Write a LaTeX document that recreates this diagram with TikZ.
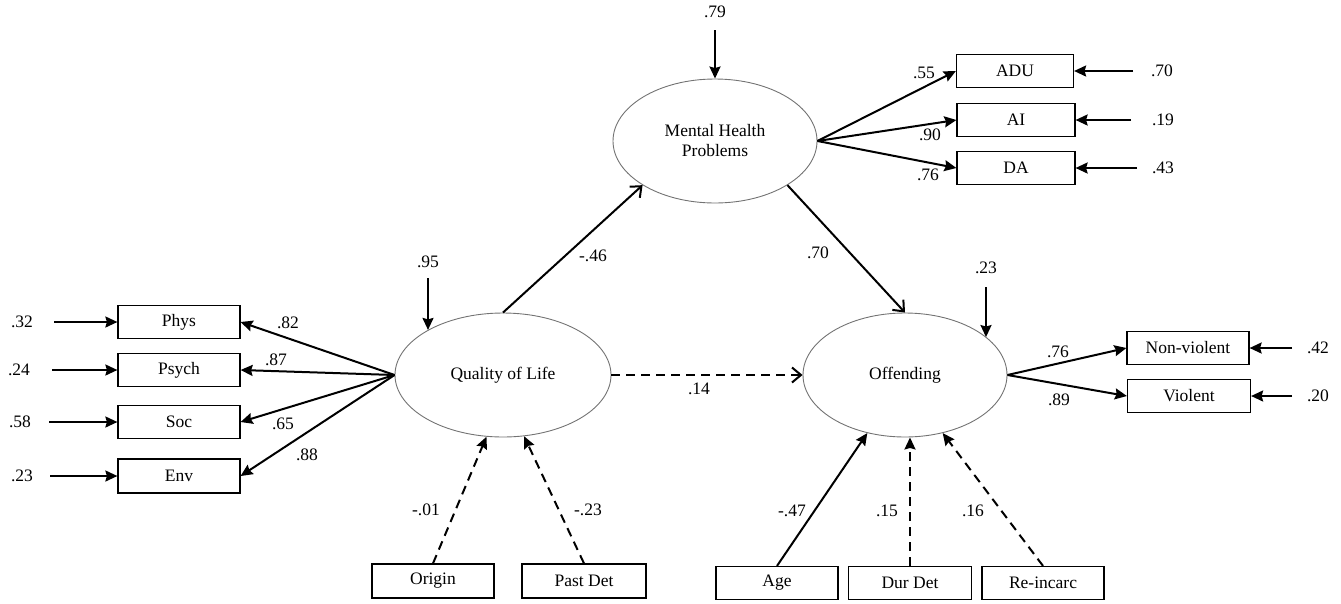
\documentclass[tikz,border=0pt]{standalone}
\usepackage{fontspec}
\setmainfont{Liberation Serif}
\usetikzlibrary{arrows.meta,shapes.geometric}
\tikzset{
  lat/.style={ellipse,draw=black!55,line width=0.9pt,inner sep=0pt,align=center},
  ind/.style={rectangle,draw=black,line width=1.2pt,minimum width=122pt,minimum height=33pt,inner sep=0pt},
  lbl/.style={inner sep=0pt},
  arr/.style={line width=2pt,-{Stealth[length=12pt,width=11pt,inset=1.5pt]}},
  oarr/.style={line width=2pt,-{Straight Barb[length=9pt,width=15pt,line width=2pt]}},
  dsh/.style={dash pattern=on 9pt off 6pt},
}
\begin{document}
\begin{tikzpicture}[x=1pt,y=-1pt,font=\fontsize{17.5}{20}\selectfont]
\useasboundingbox (0,0) rectangle (1341,603);
% latent variables
\node[lat,minimum width=216pt,minimum height=124pt] (qol) at (503,375) {Quality of Life};
\node[lat,minimum width=204pt,minimum height=124pt] (mhp) at (715,141) {Mental Health\\Problems};
\node[lat,minimum width=204pt,minimum height=124pt] (off) at (905,375) {Offending};
% QoL indicators
\node[ind] (phys) at (179,322) {Phys};
\node[ind] (psych) at (179,370) {Psych};
\node[ind] (soc) at (179,422) {Soc};
\node[ind,minimum height=34pt] (env) at (179,476) {Env};
% MHP indicators
\node[ind,minimum width=117pt] (adu) at (1015,71) {ADU};
\node[ind,minimum width=118pt] (ai) at (1016,120) {AI};
\node[ind,minimum width=118pt] (da) at (1016,168) {DA};
% Offending indicators
\node[ind] (nv) at (1188,348) {Non-violent};
\node[ind,minimum width=123pt] (vi) at (1189,396) {Violent};
% covariates
\node[ind,minimum height=34pt] (origin) at (433,581) {Origin};
\node[ind,minimum width=124pt,minimum height=34pt] (pastdet) at (584,581) {Past Det};
\node[ind] (age) at (777,583) {Age};
\node[ind,minimum width=123pt] (durdet) at (910,583) {Dur Det};
\node[ind] (reinc) at (1043,583) {Re-incarc};
% error terms
\coordinate (ephys) at (54,322);
\coordinate (epsych) at (52,370);
\coordinate (esoc) at (49,422);
\coordinate (eenv) at (50,476);
\coordinate (eadu) at (1133,71);
\coordinate (eai) at (1131,120);
\coordinate (eda) at (1137,168);
\coordinate (env2) at (1292,348);
\coordinate (evi) at (1292,396);
\coordinate (eqol) at (428,278);
\coordinate (emhp) at (715,30);
\coordinate (eoff) at (986,287);
\draw[arr] (ephys) -- (phys.west);
\draw[arr] (epsych) -- (psych.west);
\draw[arr] (esoc) -- (soc.west);
\draw[arr] (eenv) -- (env.west);
\draw[arr] (eadu) -- (adu.east);
\draw[arr] (eai) -- (ai.east);
\draw[arr] (eda) -- (da.east);
\draw[arr] (env2) -- (nv.east);
\draw[arr] (evi) -- (vi.east);
\draw[arr] (eqol) -- (eqol |- qol.149);
\draw[arr] (emhp) -- (mhp.north);
\draw[arr] (eoff) -- (eoff |- off.25);
\node[lbl] (l32) at (22,322) {.32};
\node[lbl] (l24) at (19,370) {.24};
\node[lbl] (l58) at (20,422) {.58};
\node[lbl] (l23a) at (22,476) {.23};
\node[lbl] (l70a) at (1162,71) {.70};
\node[lbl] (l19) at (1163,120) {.19};
\node[lbl] (l43) at (1163,168) {.43};
\node[lbl] (l42) at (1318,348) {.42};
\node[lbl] (l20) at (1318,396) {.20};
\node[lbl] (l95) at (428,262) {.95};
\node[lbl] (l79) at (715,12) {.79};
\node[lbl] (l23b) at (986,268) {.23};
% loadings
\draw[arr] (qol.west) -- (phys.east);
\draw[arr] (qol.west) -- (psych.east);
\draw[arr] (qol.west) -- (soc.east);
\draw[arr] (qol.west) -- (env.east);
\draw[arr] (mhp.east) -- (adu.west);
\draw[arr] (mhp.east) -- (ai.west);
\draw[arr] (mhp.east) -- (da.west);
\draw[arr] (off.east) -- (nv.west);
\draw[arr] (off.east) -- (vi.west);
\node[lbl] at (288,323) {.82};
\node[lbl] at (276,360) {.87};
\node[lbl] at (283,424) {.65};
\node[lbl] at (307,455) {.88};
\node[lbl] at (924,73) {.55};
\node[lbl] at (930,135) {.90};
\node[lbl] at (928,175) {.76};
\node[lbl] at (1058,352) {.76};
\node[lbl] at (1059,400) {.89};
% structural paths
\draw[oarr] (qol.north) -- (mhp.south west);
\draw[oarr] (mhp.south east) -- (off.north);
\draw[oarr,dsh] (qol.east) -- (off.west);
\node[lbl] at (593,256) {-.46};
\node[lbl] at (818,253) {.70};
\node[lbl] at (699,389) {.14};
% covariate paths
\draw[arr,dsh] (origin.north) -- (qol.255);
\draw[arr,dsh] (pastdet.north) -- (qol.289);
\draw[arr] (age.north) -- (off.237);
\draw[arr,dsh] (durdet.north) -- (durdet.north |- off.south);
\draw[arr,dsh] (reinc.north) -- (off.303);
\node[lbl] at (426,510) {-.01};
\node[lbl] at (588,510) {-.23};
\node[lbl] at (792,511) {-.47};
\node[lbl] at (887,511) {.15};
\node[lbl] at (973,511) {.16};
\end{tikzpicture}
\end{document}
